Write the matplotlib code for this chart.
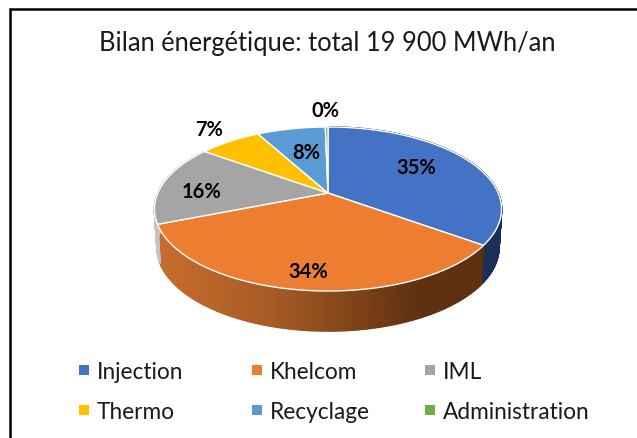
import numpy as np
import matplotlib
matplotlib.use("Agg")
import matplotlib.pyplot as plt
from matplotlib.collections import PolyCollection
from matplotlib.colors import LinearSegmentedColormap
from matplotlib.path import Path
from matplotlib.transforms import Transform, Affine2D

title = "Bilan énergétique: total 19 900 MWh/an"
categories = ["Injection", "Khelcom", "IML", "Thermo", "Recyclage", "Administration"]
values = [35.0, 34.0, 16.0, 7.0, 7.7, 0.3]
colors = ["#4472C4", "#ED7D31", "#A5A5A5", "#FFC000", "#5B9BD5", "#70AD47"]
label_pos = [(416, 168), (308, 272), (202, 192), (209, 130), (306, 153), (326, 111)]
legend_x = [84, 257, 430]
legend_y = [371, 411]

plt.rcParams["font.family"] = ["Lato", "DejaVu Sans"]
W, H = 637, 439
fig = plt.figure(figsize=(W / 100, H / 100), dpi=100, facecolor="white")
ax = fig.add_axes([0, 0, 1, 1])

CX, CY, A, B, K = 328.0, 194.0, 170.2, 78.9, 0.195


class Persp(Transform):
    """Perspective view of the unit pie, into the axes' pixel-like data units."""
    input_dims = output_dims = 2
    is_separable = False
    has_inverse = False

    def __init__(self, dy=0.0, sy=1.0, sx=1.0):
        super().__init__()
        self.dy, self.sy, self.sx = dy, sy, sx

    def transform_non_affine(self, xy):
        xy = np.asarray(xy, float)
        v = -xy[:, 1]
        w = 1 - K * v
        return np.column_stack([CX + self.sx * A * xy[:, 0] / w,
                                CY + self.dy + self.sy * B * v / w])

    def transform_path_non_affine(self, path):
        big = path.transformed(Affine2D().scale(2000))
        poly = big.to_polygons(closed_only=True)[0] / 2000
        return Path(self.transform_non_affine(poly), closed=True)


top = Persp()
low = Persp(dy=38, sy=1.02, sx=0.985)

wedges, _ = ax.pie(values, colors=colors, startangle=90, counterclock=False,
                   wedgeprops=dict(edgecolor="white", linewidth=1.0), normalize=True)
for w in wedges:
    w.set_transform(top + ax.transData)
    w.set_zorder(3)
    w.set_clip_on(False)

ax.set_aspect("auto")
ax.set_xlim(0, W)
ax.set_ylim(H, 0)
ax.set_axis_off()


def side(theta1, theta2, cmap=None, color=None):
    t = np.radians(np.linspace(theta1, theta2, 160))
    u = np.column_stack([np.cos(t), np.sin(t)])
    a, b = top.transform(u), low.transform(u)
    quads = [[a[i], a[i + 1], b[i + 1], b[i]] for i in range(len(t) - 1)]
    if cmap is not None:
        xs = (a[:-1, 0] - 158) / (484 - 158)
        fc = cmap(np.clip(xs, 0, 1))
    else:
        fc = color
    ax.add_collection(PolyCollection(quads, facecolors=fc, edgecolors=fc,
                                     linewidths=1.2, zorder=2))


orange_side = LinearSegmentedColormap.from_list(
    "os", [(0, "#C76D2D"), (0.35, "#A75B25"), (0.6, "#804318"),
           (0.8, "#5F3112"), (1, "#5E3012")])
side(wedges[0].theta1, wedges[0].theta2, color="#1A2E58")
side(wedges[1].theta1, wedges[1].theta2, cmap=orange_side)
side(wedges[2].theta1, wedges[2].theta2, color="#C4C4C4")

ax.text(327, 43, title, ha="center", va="center", fontsize=18.4, color="#1a1a1a")

for v, (x, y) in zip(values, label_pos):
    ax.text(x, y, f"{round(v)}%", ha="center", va="center", fontsize=14.5,
            fontweight="bold", color="black", zorder=5)

for i, (name, col) in enumerate(zip(categories, colors)):
    x, y = legend_x[i % 3], legend_y[i // 3]
    ax.scatter([x], [y], marker="s", s=60, color=col, linewidths=0, zorder=4)
    ax.text(x + 13, y + 2, name, ha="left", va="center", fontsize=16.3, color="#1a1a1a")

ax.plot([9.5, 9.5, W], [H, 9.5, 9.5], color="black", lw=1.8, solid_joinstyle="miter",
        zorder=6, clip_on=False)

fig.savefig("out.png", dpi=100)
